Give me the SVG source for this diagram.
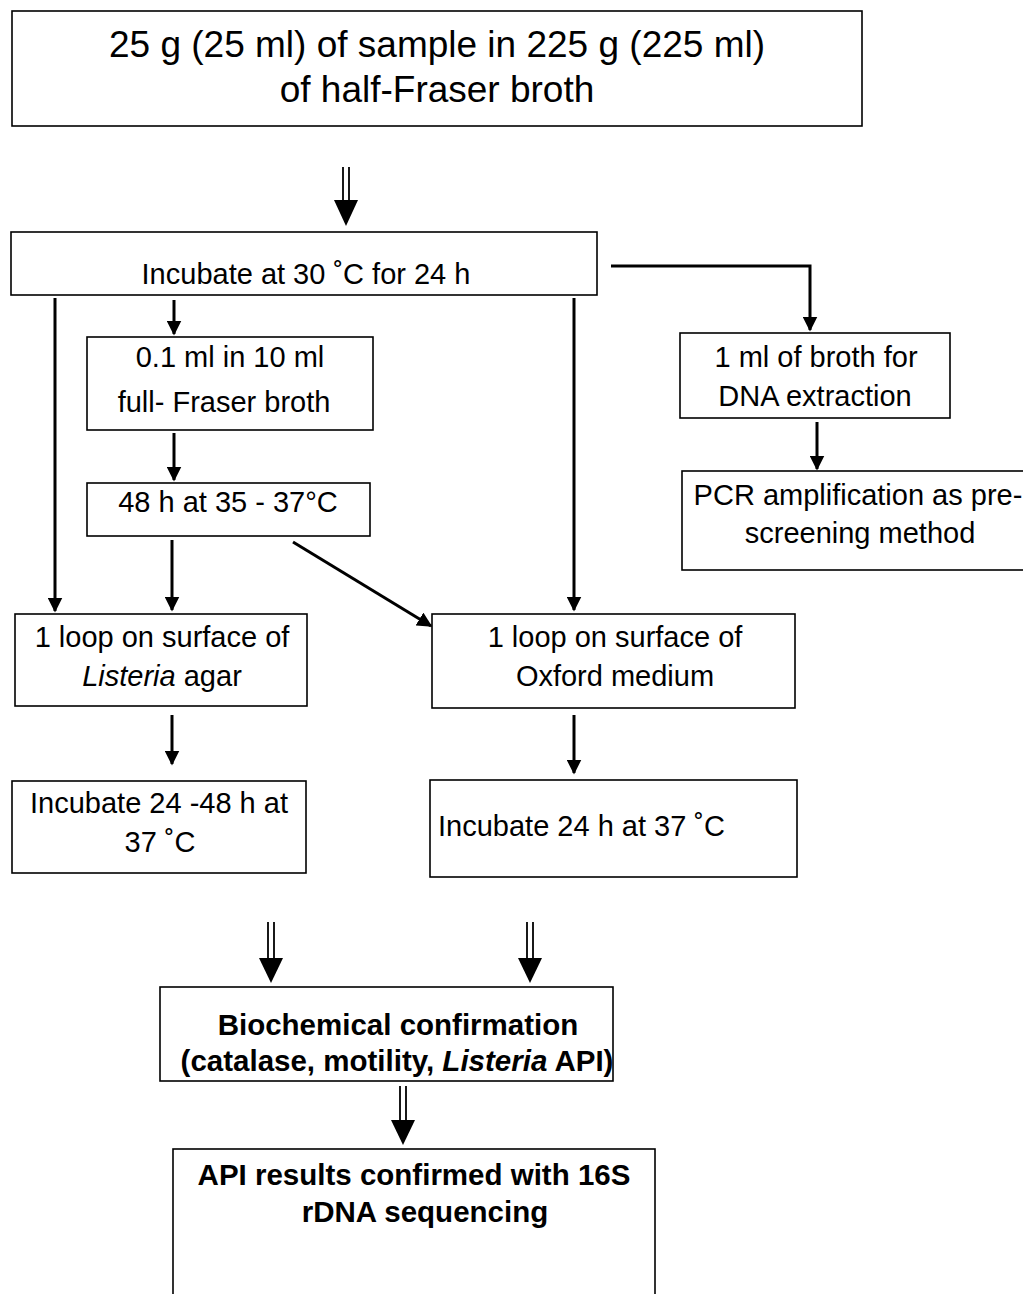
<svg xmlns="http://www.w3.org/2000/svg" width="1023" height="1294" viewBox="0 0 1023 1294">
<style>
.box{fill:#fff;stroke:#000;stroke-width:1.6}
.t{font-family:"Liberation Sans",Arial,sans-serif;font-size:29px;fill:#000;text-anchor:middle}
.big{font-size:37px}
.b{font-weight:bold;font-size:29.5px}
.ln{stroke:#000;stroke-width:3;fill:none}
.dl{stroke:#000;stroke-width:1.8;fill:none}
.hd{fill:#000}
</style>
<defs>
<marker id="ah" viewBox="0 0 10 10" refX="9" refY="5" markerWidth="15" markerHeight="15" markerUnits="userSpaceOnUse" orient="auto">
<path d="M0,0 L10,5 L0,10 z" fill="#000"/>
</marker>
</defs>
<rect width="1023" height="1294" fill="#fff"/>
<g id="connectors">
<line class="dl" x1="343" y1="167" x2="343" y2="202"/><line class="dl" x1="349" y1="167" x2="349" y2="202"/>
<polygon class="hd" points="334,200 358,200 346,226"/>
<line class="dl" x1="268" y1="922" x2="268" y2="960"/><line class="dl" x1="274" y1="922" x2="274" y2="960"/>
<polygon class="hd" points="259,958 283,958 271,983"/>
<line class="dl" x1="527" y1="922" x2="527" y2="960"/><line class="dl" x1="533" y1="922" x2="533" y2="960"/>
<polygon class="hd" points="518,958 542,958 530,983"/>
<line class="dl" x1="400" y1="1086" x2="400" y2="1122"/><line class="dl" x1="406" y1="1086" x2="406" y2="1122"/>
<polygon class="hd" points="391,1120 415,1120 403,1145"/>
<polyline class="ln" points="611,266 810,266 810,330" marker-end="url(#ah)"/>
<line class="ln" x1="817" y1="422" x2="817" y2="469" marker-end="url(#ah)"/>
<line class="ln" x1="55" y1="298" x2="55" y2="611" marker-end="url(#ah)"/>
<line class="ln" x1="174" y1="300" x2="174" y2="334" marker-end="url(#ah)"/>
<line class="ln" x1="174" y1="433" x2="174" y2="480" marker-end="url(#ah)"/>
<line class="ln" x1="172" y1="540" x2="172" y2="610" marker-end="url(#ah)"/>
<line class="ln" x1="293" y1="542" x2="431" y2="626" marker-end="url(#ah)"/>
<line class="ln" x1="574" y1="298" x2="574" y2="610" marker-end="url(#ah)"/>
<line class="ln" x1="172" y1="715" x2="172" y2="764" marker-end="url(#ah)"/>
<line class="ln" x1="574" y1="715" x2="574" y2="773" marker-end="url(#ah)"/>
</g>
<g id="n1"><rect class="box" x="12" y="11" width="850" height="115"/>
<text class="t big" x="437" y="57">25 g (25 ml) of sample in 225 g (225 ml)</text>
<text class="t big" x="437" y="102">of half-Fraser broth</text></g>
<g id="n2"><rect class="box" x="11" y="232" width="586" height="63"/>
<text class="t" x="306" y="284">Incubate at 30 ˚C for 24 h</text></g>
<g id="n3"><rect class="box" x="87" y="337" width="286" height="93"/>
<text class="t" x="230" y="367">0.1 ml in 10 ml</text>
<text class="t" x="224" y="412">full- Fraser broth</text></g>
<g id="n4"><rect class="box" x="87" y="483" width="283" height="53"/>
<text class="t" x="228" y="512">48 h at 35 - 37°C</text></g>
<g id="n5"><rect class="box" x="680" y="333" width="270" height="85"/>
<text class="t" x="816" y="367">1 ml of broth for</text>
<text class="t" x="815" y="406">DNA extraction</text></g>
<g id="n6"><rect class="box" x="682" y="471" width="345" height="99"/>
<text class="t" x="858" y="505">PCR amplification as pre-</text>
<text class="t" x="860" y="543">screening method</text></g>
<g id="n7"><rect class="box" x="15" y="614" width="292" height="92"/>
<text class="t" x="162" y="647">1 loop on surface of</text>
<text class="t" x="162" y="686"><tspan font-style="italic">Listeria</tspan> agar</text></g>
<g id="n8"><rect class="box" x="432" y="614" width="363" height="94"/>
<text class="t" x="615" y="647">1 loop on surface of</text>
<text class="t" x="615" y="686">Oxford medium</text></g>
<g id="n9"><rect class="box" x="12" y="781" width="294" height="92"/>
<text class="t" x="159" y="813">Incubate 24 -48 h at</text>
<text class="t" x="160" y="852">37 ˚C</text></g>
<g id="n10"><rect class="box" x="430" y="780" width="367" height="97"/>
<text class="t" x="438" y="836" style="text-anchor:start">Incubate 24 h at 37 ˚C</text></g>
<g id="n11"><rect class="box" x="160" y="987" width="453" height="94"/>
<text class="t b" x="398" y="1035">Biochemical confirmation</text>
<text class="t b" x="397" y="1071">(catalase, motility, <tspan font-style="italic">Listeria</tspan> API)</text></g>
<g id="n12"><rect class="box" x="173" y="1149" width="482" height="150"/>
<text class="t b" x="414" y="1185">API results confirmed with 16S</text>
<text class="t b" x="425" y="1222">rDNA sequencing</text></g>
</svg>
